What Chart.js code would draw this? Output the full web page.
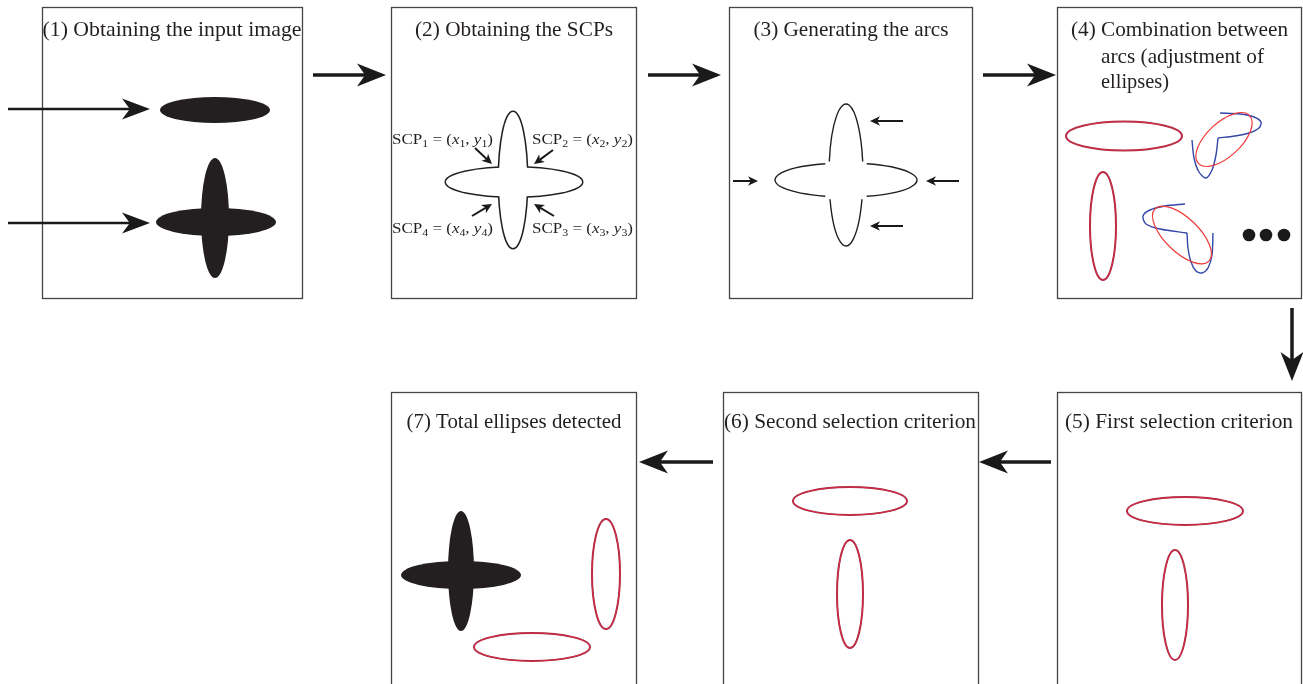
<!DOCTYPE html>
<html>
<head>
<meta charset="utf-8">
<script src="https://cdn.jsdelivr.net/npm/chart.js@4.4.1/dist/chart.umd.min.js"></script>
<style>html,body{margin:0;padding:0;background:#fff;overflow:hidden}canvas{display:block}</style>
</head>
<body>
<canvas id="myChart" width="1303" height="684"></canvas>
<script>
// panel titles and boxes [x0,y0,x1,y1]
const panelTitles = ['(1) Obtaining the input image', '(2) Obtaining the SCPs', '(3) Generating the arcs',
  '(4) Combination between', 'arcs (adjustment of', 'ellipses)',
  '(5) First selection criterion', '(6) Second selection criterion', '(7) Total ellipses detected'];
const titleSpots = [[172,30,259,'center'],[514,30,198,'center'],[851,30,195,'center'],
  [1071,30,217,'left'],[1101,57,163,'left'],[1101,82,68,'left'],
  [1179,422,228,'center'],[850,422,252,'center'],[514,422,215,'center']];
const panelBoxes = [[42,7,302,298],[391,7,636,298],[729,7,972,298],[1057,7,1301,298],
  [1057,392,1301,690],[723,392,978,690],[391,392,636,690]];

// arrows [x1,y1,x2,y2]
const flowArrows = [[313,75,386,75],[648,75,721,75],[983,75,1056,75],[1292,308,1292,381],[1051,462,979,462],[713,462,639,462]];
const inputArrows = [[8,109,150,109],[8,223,150,223]];
const smallArrows = [[903,121,870,121],[733,181,758,181],[959,181,926,181],[903,226,870,226],
  [475,148,492,164],[553,150,534,164],[472,216,492,204],[554,216,534,204]];

// ellipses [cx,cy,rx,ry]
const solidShapes = [[215,110,55,13],[216,222,60,14],[215,218,14,60],[461,575,60,14],[461,571,13,60]];
const scpOutline = [[514,182,68,14.5],[513,180,14,68]];
// arcs [cx,cy,rx,ry,startDeg,endDeg]
const arcPieces = [[846,175,17,71,191,349],[846,175,17,71,20,160],[846,180,71,17,107,253],[846,180,71,17,-73,73]];
// fitted ellipses [cx,cy,rx,ry,rotDeg]
const fittedEllipses = [[1124,136,58,14.5,0],[1103,226,13,54,0],[1185,511,58,14,0],[1175,605,13,55,0],
  [850,501,57,14,0],[850,594,13,54,0],[532,647,58,14,0],[606,574,14,55,0]];
const candidateEllipses = [[1224,139.5,35,17,-43],[1182,235,37.5,17,44]];

// blue arc groups
const blueA1 = [{x:1192,y:140},{x:1194,y:158},{x:1199,y:172},{x:1206,y:178},{x:1212,y:170},{x:1216,y:155},{x:1218,y:138}];
const blueA2 = [{x:1218,y:138},{x:1235,y:136},{x:1249,y:133},{x:1259,y:128},{x:1261,y:122},{x:1254,y:117},{x:1240,y:114},{x:1220,y:113}];
const blueB1 = [{x:1185,y:204},{x:1165,y:206},{x:1150,y:210},{x:1143,y:216},{x:1146,y:224},{x:1160,y:229},{x:1187,y:233}];
const blueB2 = [{x:1187,y:233},{x:1188,y:248},{x:1191,y:262},{x:1196,y:271},{x:1202,y:273},{x:1208,y:268},{x:1212,y:255},{x:1213,y:233}];
const moreDots = [{x:1249,y:235},{x:1266,y:235},{x:1284,y:235}];

// SCP labels: [index, x, y, align]
const scpLabels = [[1,493,139,'right'],[2,532,139,'left'],[4,493,228,'right'],[3,532,228,'left']];

const ink = '#231f20';
const serif = '"Liberation Serif", "DejaVu Serif", serif';

function fitText(ctx, text, x, y, w, align, size){
  ctx.font = size + 'px ' + serif;
  const m = ctx.measureText(text).width;
  ctx.save();
  ctx.translate(x, y);
  ctx.scale(w / m, 1);
  ctx.textAlign = align;
  ctx.textBaseline = 'middle';
  ctx.fillText(text, 0, 0);
  ctx.restore();
}

function scpText(ctx, n, x, y, align){
  const segs = [['SCP',0,0],[String(n),0,1],[' = (',0,0],['x',1,0],[String(n),0,1],[', ',0,0],['y',1,0],[String(n),0,1],[')',0,0]];
  const fontOf = s => (s[1] ? 'italic ' : '') + (s[2] ? 10.5 : 15) + 'px ' + serif;
  let total = 0;
  const ws = segs.map(s => { ctx.font = fontOf(s); const w = ctx.measureText(s[0]).width; total += w; return w; });
  const target = 101;
  const sc = target / total;
  let cx = align === 'right' ? x - target : x;
  ctx.textAlign = 'left';
  ctx.textBaseline = 'alphabetic';
  segs.forEach((s, i) => {
    ctx.save();
    ctx.font = fontOf(s);
    ctx.translate(cx, y + 5 + (s[2] ? 3 : 0));
    ctx.scale(sc, 1);
    ctx.fillText(s[0], 0, 0);
    ctx.restore();
    cx += ws[i] * sc;
  });
}

function drawArrow(ctx, a, lw, L, W){
  const [x1,y1,x2,y2] = a;
  const ang = Math.atan2(y2 - y1, x2 - x1);
  const c = Math.cos(ang), s = Math.sin(ang);
  ctx.lineWidth = lw;
  ctx.beginPath();
  ctx.moveTo(x1, y1);
  ctx.lineTo(x2 - c * L * 0.7, y2 - s * L * 0.7);
  ctx.stroke();
  ctx.beginPath();
  ctx.moveTo(x2, y2);
  ctx.lineTo(x2 - c * L - s * W, y2 - s * L + c * W);
  ctx.lineTo(x2 - c * L * 0.72, y2 - s * L * 0.72);
  ctx.lineTo(x2 - c * L + s * W, y2 - s * L - c * W);
  ctx.closePath();
  ctx.fill();
}

const diagram = {
  id: 'diagram',
  beforeDatasetsDraw(chart){
    const ctx = chart.ctx;
    const sx = chart.scales.x, sy = chart.scales.y;
    const px = v => sx.getPixelForValue(v), py = v => sy.getPixelForValue(v);
    const ell = e => {
      ctx.beginPath();
      ctx.ellipse(px(e[0]), py(e[1]), px(e[0] + e[2]) - px(e[0]), py(e[1] + e[3]) - py(e[1]),
        (e[4] || 0) * Math.PI / 180, 0, Math.PI * 2);
    };
    ctx.save();
    // boxes
    ctx.strokeStyle = '#454545';
    ctx.lineWidth = 1.3;
    panelBoxes.forEach(b => {
      ctx.strokeRect(Math.round(px(b[0])) + 0.5, Math.round(py(b[1])) + 0.5, px(b[2]) - px(b[0]), py(b[3]) - py(b[1]));
    });
    // titles
    ctx.fillStyle = ink;
    panelTitles.forEach((t, i) => {
      const p = titleSpots[i];
      fitText(ctx, t, px(p[0]), py(p[1]), p[2], p[3], 21);
    });
    // solid shapes
    solidShapes.forEach(e => { ell(e); ctx.fill(); });
    // SCP union outline
    ctx.strokeStyle = ink;
    ctx.lineWidth = 3;
    scpOutline.forEach(e => { ell(e); ctx.stroke(); });
    ctx.fillStyle = '#fff';
    scpOutline.forEach(e => { ell(e); ctx.fill(); });
    ctx.fillStyle = ink;
    scpLabels.forEach(l => scpText(ctx, l[0], px(l[1]), py(l[2]), l[3]));
    // arcs
    ctx.lineWidth = 1.4;
    arcPieces.forEach(a => {
      ctx.beginPath();
      ctx.ellipse(px(a[0]), py(a[1]), px(a[0] + a[2]) - px(a[0]), py(a[1] + a[3]) - py(a[1]), 0,
        a[4] * Math.PI / 180, a[5] * Math.PI / 180);
      ctx.stroke();
    });
    // arrows
    ctx.strokeStyle = '#1a1a1a';
    ctx.fillStyle = '#1a1a1a';
    ctx.lineCap = 'butt';
    const P = a => [px(a[0]), py(a[1]), px(a[2]), py(a[3])];
    flowArrows.forEach(a => drawArrow(ctx, P(a), 3.5, 29, 11.5));
    inputArrows.forEach(a => drawArrow(ctx, P(a), 2.6, 28, 10.5));
    smallArrows.forEach(a => drawArrow(ctx, P(a), 2, 10, 4.8));
    // fitted ellipses (red over blue)
    fittedEllipses.forEach(e => {
      ctx.strokeStyle = '#a2304f'; ctx.lineWidth = 2; ell(e); ctx.stroke();
      ctx.strokeStyle = '#dc2a3c'; ctx.lineWidth = 0.9; ell(e); ctx.stroke();
    });
    ctx.restore();
  },
  afterDatasetsDraw(chart){
    const ctx = chart.ctx;
    const sx = chart.scales.x, sy = chart.scales.y;
    ctx.save();
    ctx.strokeStyle = '#ef3a3a';
    ctx.lineWidth = 1.2;
    candidateEllipses.forEach(e => {
      const cx = sx.getPixelForValue(e[0]), cy = sy.getPixelForValue(e[1]);
      ctx.beginPath();
      ctx.ellipse(cx, cy, sx.getPixelForValue(e[0] + e[2]) - cx, sy.getPixelForValue(e[1] + e[3]) - cy,
        e[4] * Math.PI / 180, 0, Math.PI * 2);
      ctx.stroke();
    });
    ctx.restore();
  }
};

const blueLine = data => ({
  data: data, showLine: true, tension: 0.3, borderColor: '#3347a6', borderWidth: 1.4,
  pointRadius: 0, fill: false
});

const ctx = document.getElementById('myChart').getContext('2d');
const myChart = new Chart(ctx, {
  type: 'scatter',
  data: {
    datasets: [
      blueLine(blueA1), blueLine(blueA2), blueLine(blueB1), blueLine(blueB2),
      { data: moreDots, showLine: false, pointRadius: 6.3, backgroundColor: '#1a1a1a', borderWidth: 0 }
    ]
  },
  options: {
    responsive: false,
    devicePixelRatio: 1,
    animation: false,
    layout: { padding: 0, autoPadding: false },
    plugins: { legend: { display: false }, tooltip: { enabled: false } },
    scales: {
      x: { type: 'linear', min: 0, max: 1303, display: false },
      y: { type: 'linear', min: 0, max: 684, reverse: true, display: false }
    }
  },
  plugins: [diagram]
});
</script>
</body>
</html>
